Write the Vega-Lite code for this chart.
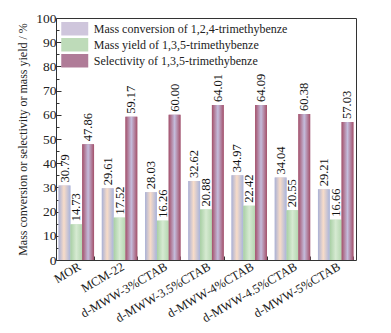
{
  "$schema": "https://vega.github.io/schema/vega-lite/v6.json",
  "width": 300,
  "height": 242,
  "autosize": "none",
  "padding": {"left": 56, "top": 18, "right": 35, "bottom": 73},
  "background": "white",
  "config": {
    "font": "Liberation Serif",
    "view": {"stroke": "#333", "strokeWidth": 1},
    "axis": {"labelFont": "Liberation Serif", "titleFont": "Liberation Serif", "labelColor": "#222", "titleColor": "#222", "domainColor": "#333", "tickColor": "#333"}
  },
  "data": {"values": [
    {"sample": "MOR", "series": "Mass conversion of 1,2,4-trimethybenze", "value": 30.79},
    {"sample": "MOR", "series": "Mass yield of 1,3,5-trimethybenze", "value": 14.73},
    {"sample": "MOR", "series": "Selectivity of 1,3,5-trimethybenze", "value": 47.86},
    {"sample": "MCM-22", "series": "Mass conversion of 1,2,4-trimethybenze", "value": 29.61},
    {"sample": "MCM-22", "series": "Mass yield of 1,3,5-trimethybenze", "value": 17.52},
    {"sample": "MCM-22", "series": "Selectivity of 1,3,5-trimethybenze", "value": 59.17},
    {"sample": "d-MWW-3%CTAB", "series": "Mass conversion of 1,2,4-trimethybenze", "value": 28.03},
    {"sample": "d-MWW-3%CTAB", "series": "Mass yield of 1,3,5-trimethybenze", "value": 16.26},
    {"sample": "d-MWW-3%CTAB", "series": "Selectivity of 1,3,5-trimethybenze", "value": 60.00},
    {"sample": "d-MWW-3.5%CTAB", "series": "Mass conversion of 1,2,4-trimethybenze", "value": 32.62},
    {"sample": "d-MWW-3.5%CTAB", "series": "Mass yield of 1,3,5-trimethybenze", "value": 20.88},
    {"sample": "d-MWW-3.5%CTAB", "series": "Selectivity of 1,3,5-trimethybenze", "value": 64.01},
    {"sample": "d-MWW-4%CTAB", "series": "Mass conversion of 1,2,4-trimethybenze", "value": 34.97},
    {"sample": "d-MWW-4%CTAB", "series": "Mass yield of 1,3,5-trimethybenze", "value": 22.42},
    {"sample": "d-MWW-4%CTAB", "series": "Selectivity of 1,3,5-trimethybenze", "value": 64.09},
    {"sample": "d-MWW-4.5%CTAB", "series": "Mass conversion of 1,2,4-trimethybenze", "value": 34.04},
    {"sample": "d-MWW-4.5%CTAB", "series": "Mass yield of 1,3,5-trimethybenze", "value": 20.55},
    {"sample": "d-MWW-4.5%CTAB", "series": "Selectivity of 1,3,5-trimethybenze", "value": 60.38},
    {"sample": "d-MWW-5%CTAB", "series": "Mass conversion of 1,2,4-trimethybenze", "value": 29.21},
    {"sample": "d-MWW-5%CTAB", "series": "Mass yield of 1,3,5-trimethybenze", "value": 16.66},
    {"sample": "d-MWW-5%CTAB", "series": "Selectivity of 1,3,5-trimethybenze", "value": 57.03}
  ]},
  "encoding": {
    "x": {"field": "sample", "type": "nominal", "sort": null,
      "scale": {"paddingInner": 0.18, "paddingOuter": 0.06},
      "axis": {"title": null, "labelAngle": -30, "labelAlign": "right", "labelBaseline": "top", "labelFontSize": 12.5, "labelPadding": 4, "tickBand": "extent", "ticks": true, "tickSize": -4, "domain": false}},
    "xOffset": {"field": "series", "type": "nominal", "sort": null},
    "y": {"field": "value", "type": "quantitative",
      "scale": {"domain": [0, 100], "nice": false},
      "axis": {"title": "Mass conversion or selectivity or mass yield / %", "titleFontSize": 12, "titleFontWeight": "normal", "titlePadding": 6, "labelFontSize": 13.5, "values": [0,5,10,15,20,25,30,35,40,45,50,55,60,65,70,75,80,85,90,95,100],
        "labelExpr": "datum.value % 10 === 0 ? datum.label : ''",
        "tickSize": {"condition": {"test": "datum.value % 10 === 0", "value": -5}, "value": -3},
        "grid": false, "domain": false, "labelPadding": 5}}
  },
  "layer": [
    {
      "mark": {"type": "bar", "stroke": null},
      "encoding": {
        "color": {"field": "series", "type": "nominal", "sort": null,
          "scale": {"range": ["#cfc6dc", "#bedbb9", "#b07c98"]},
          "legend": {"title": null, "orient": "none", "legendX": 11.75, "legendY": 3.75, "labelFontSize": 12, "labelColor": "#222", "symbolType": "M-2,-1H2V1H-2Z", "symbolSize": 182, "symbolStrokeWidth": 0, "symbolOpacity": 1, "rowPadding": 2, "labelOffset": 12, "labelLimit": 400}
        }
      }
    },
    {
      "transform": [{"filter": "datum.series === 'Mass conversion of 1,2,4-trimethybenze'"}],
      "mark": {"type": "bar", "opacity": 1, "color": {"gradient": "linear", "x1": 0, "y1": 0, "x2": 1, "y2": 0, "stops": [{"offset": 0, "color": "#a9b1d6"}, {"offset": 0.45, "color": "#f8dcc8"}, {"offset": 1, "color": "#a8b4dc"}]}}
    },
    {
      "transform": [{"filter": "datum.series === 'Mass yield of 1,3,5-trimethybenze'"}],
      "mark": {"type": "bar", "opacity": 1, "color": {"gradient": "linear", "x1": 0, "y1": 0, "x2": 1, "y2": 0, "stops": [{"offset": 0, "color": "#a8cfa4"}, {"offset": 0.5, "color": "#d6ead2"}, {"offset": 1, "color": "#b4d6b0"}]}}
    },
    {
      "transform": [{"filter": "datum.series === 'Selectivity of 1,3,5-trimethybenze'"}],
      "mark": {"type": "bar", "opacity": 1, "color": {"gradient": "linear", "x1": 0, "y1": 0, "x2": 1, "y2": 0, "stops": [{"offset": 0, "color": "#a4506a"}, {"offset": 0.5, "color": "#c4bcdc"}, {"offset": 1, "color": "#a4506a"}]}}
    },
    {
      "mark": {"type": "text", "angle": 270, "align": "left", "baseline": "middle", "dx": 3, "fontSize": 12.5, "color": "#111"},
      "encoding": {"text": {"field": "value", "type": "quantitative", "format": ".2f"}}
    }
  ]
}
